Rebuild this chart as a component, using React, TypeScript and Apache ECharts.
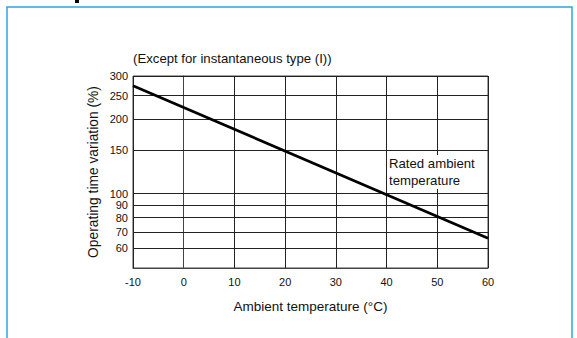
import React, { useEffect, useRef } from "react";
import * as echarts from "echarts";

const xTicks = [-10, 0, 10, 20, 30, 40, 50, 60];
const yGridValues = [60, 70, 80, 90, 100, 150, 200, 250, 300];
const lineTemps = [-10, 60];
const lineVariation = [274, 66];

const FONT = "'Liberation Sans', Arial, Helvetica, sans-serif";

export default function App() {
  const ref = useRef<HTMLDivElement>(null);
  useEffect(() => {
    if (!ref.current) return;
    const chart = echarts.init(ref.current, undefined, { renderer: "svg" });
    const lineData = lineTemps.map((t, i) => [t, lineVariation[i]]);
    chart.setOption({
      animation: false,
      backgroundColor: "#fff",
      textStyle: { fontFamily: FONT },
      grid: {
        left: 133,
        right: 89,
        top: 76,
        bottom: 70,
        show: true,
        borderColor: "#444",
        borderWidth: 1,
      },
      xAxis: {
        type: "value",
        min: xTicks[0],
        max: xTicks[xTicks.length - 1],
        interval: 10,
        axisLine: { show: true, lineStyle: { color: "#444", width: 1 } },
        axisTick: { show: false },
        axisLabel: { color: "#111", fontSize: 11, margin: 8, fontFamily: FONT },
        splitLine: { show: true, lineStyle: { color: "#222", width: 1 } },
        name: "Ambient temperature (°C)",
        nameLocation: "middle",
        nameGap: 31,
        nameTextStyle: { color: "#111", fontSize: 13.5, fontFamily: FONT },
      },
      yAxis: {
        type: "log",
        min: 50,
        max: 300,
        axisLine: { show: true, lineStyle: { color: "#444", width: 1 } },
        axisTick: { show: false },
        axisLabel: { show: false },
        splitLine: { show: false },
        name: "Operating time variation (%)",
        nameLocation: "middle",
        nameGap: 33,
        nameRotate: 90,
        nameTextStyle: { color: "#111", fontSize: 13.8, fontFamily: FONT },
      },
      series: [
        {
          type: "line",
          data: lineData,
          symbol: "none",
          lineStyle: { color: "#000", width: 2.7 },
          z: 5,
          markLine: {
            silent: true,
            symbol: "none",
            animation: false,
            lineStyle: { color: "#222", width: 1, type: "solid" },
            label: {
              show: true,
              position: "start",
              distance: 5,
              color: "#111",
              fontSize: 11,
              fontFamily: FONT,
              formatter: (p: any) => String(p.value),
            },
            data: yGridValues.map((v) => ({ yAxis: v })),
          },
        },
      ],
      graphic: [
        {
          type: "rect",
          shape: { x: 7, y: 7, width: 565, height: 400 },
          style: { fill: "none", stroke: "#2aa7df", lineWidth: 1.5 },
        },
        {
          type: "rect",
          shape: { x: 75, y: 0, width: 4, height: 3 },
          style: { fill: "#000" },
        },
        {
          type: "text",
          left: 133,
          top: 52,
          style: {
            text: "(Except for instantaneous type (I))",
            fill: "#111",
            font: `13.2px ${FONT}`,
          },
        },
        {
          type: "text",
          left: 389,
          top: 155,
          style: {
            text: "Rated ambient\ntemperature",
            fill: "#111",
            font: `13.2px ${FONT}`,
            lineHeight: 17,
            backgroundColor: "#fff",
          },
          z: 10,
        },
      ],
    });
    return () => chart.dispose();
  }, []);
  return (
    <div
      ref={ref}
      style={{ position: "fixed", left: 0, top: 0, width: 577, height: 338 }}
    />
  );
}
